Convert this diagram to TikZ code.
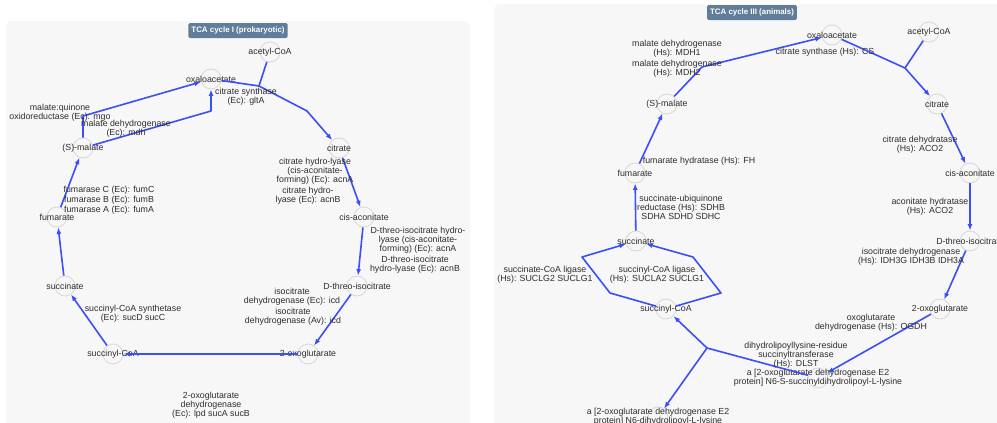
\documentclass[tikz,border=0pt]{standalone}
\usepackage{fontspec}
\setmainfont{Liberation Sans}
\usetikzlibrary{arrows.meta, positioning}
\definecolor{rxnBlue}{RGB}{58,78,250}
\definecolor{panelGray}{RGB}{247,247,247}
\definecolor{ringGray}{RGB}{218,218,218}
\definecolor{textGray}{RGB}{45,45,45}
\definecolor{tagBlue}{RGB}{96,125,153}

\begin{document}
\begin{tikzpicture}[x=1pt, y=-1pt, every node/.style={font=\fontsize{8.8}{9.2}\selectfont, text=textGray},
		met/.style={circle, draw=ringGray, line width=0.9pt, minimum size=20pt, inner sep=0pt},
		enz/.style={align=center, inner sep=0pt},
		rxn/.style={rxnBlue, line width=1.6pt, line join=round},
		rxnA/.style={rxn, -{Latex[length=6.5pt, width=5pt]}},
		panel/.style={fill=panelGray, rounded corners=6pt},
		tag/.style={fill=tagBlue, rounded corners=1.5pt, text=white, font=\fontsize{7.9}{8}\selectfont\bfseries, minimum height=15pt, inner xsep=3pt, inner ysep=0pt}]
		\useasboundingbox (0,0) rectangle (997,423);
		\clip (0,0) rectangle (997,423);
		% panels and their tags
		\fill[panel] (6,21) rectangle (470,440);
		\fill[panel] (494,4) rectangle (1010,440);
		\node[tag] (tag1) at (238,30.5) {TCA cycle I (prokaryotic)};
		\node[tag] (tag2) at (752,12.5) {TCA cycle III (animals)};
		%
		% ---- TCA cycle I ----
		\node[met, label=center:acetyl-CoA] (acoa1) at (270,52) {};
		\node[met, label=center:oxaloacetate] (oaa1) at (211,79) {};
		\node[met, label=center:citrate] (cit1) at (339,148) {};
		\node[met, label=center:cis-aconitate] (cisa1) at (364,217) {};
		\node[met, label=center:D-threo-isocitrate] (icit1) at (357,286) {};
		\node[met, label=center:2-oxoglutarate] (akg1) at (308,354) {};
		\node[met, label=center:succinyl-CoA] (scoa1) at (113,354) {};
		\node[met, label=center:succinate] (succ1) at (65,286) {};
		\node[met, label=center:fumarate] (fum1) at (57,217) {};
		\node[met, label=center:(S)-malate] (mal1) at (83,148) {};
		\coordinate (j1) at (259,86);
		\coordinate (b1) at (307,111);
		\coordinate (b2) at (83,116);
		\coordinate (b3) at (211,111);
		% reactions
		\draw[rxn] (acoa1) -- (j1);
		\draw[rxn] (oaa1) -- (j1);
		\draw[rxnA] (j1) -- (b1) -- (cit1);
		\draw[rxnA] (cit1) -- (cisa1);
		\draw[rxnA] (cisa1) -- (icit1);
		\draw[rxnA] (icit1) -- (akg1);
		\draw[rxnA] (akg1) -- (scoa1);
		\draw[rxnA] (scoa1) -- (succ1);
		\draw[rxnA] (succ1) -- (fum1);
		\draw[rxnA] (fum1) -- (mal1);
		\draw[rxnA] (mal1) -- (b2) -- (oaa1);
		\draw[rxnA] (mal1) -- (b3) -- (oaa1);
		% enzymes
		\node[enz] (gltA) at (246,96.5) {citrate synthase\\(Ec): gltA};
		\node[enz] (mgo) at (60,112.5) {malate:quinone\\oxidoreductase (Ec): mgo};
		\node[enz] (mdh) at (126,128.5) {malate dehydrogenase\\(Ec): mdh};
		\node[enz] (fumABC) at (109,200) {fumarase C (Ec): fumC\\[1pt]fumarase B (Ec): fumB\\[1pt]fumarase A (Ec): fumA};
		\node[enz] (acnA1) at (315,171) {citrate hydro-lyase\\(cis-aconitate-\\forming) (Ec): acnA};
		\node[enz] (acnB1) at (308,196) {citrate hydro-\\lyase (Ec): acnB};
		\node[enz] (acnA2) at (418,240) {D-threo-isocitrate hydro-\\lyase (cis-aconitate-\\forming) (Ec): acnA};
		\node[enz] (acnB2) at (415,265) {D-threo-isocitrate\\hydro-lyase (Ec): acnB};
		\node[enz] (icdEc) at (292,296.5) {isocitrate\\dehydrogenase (Ec): icd};
		\node[enz] (icdAv) at (293,316.5) {isocitrate\\dehydrogenase (Av): icd};
		\node[enz] (sucCD) at (133,313.5) {succinyl-CoA synthetase\\(Ec): sucD sucC};
		\node[enz] (sucAB) at (211,405.5) {2-oxoglutarate\\dehydrogenase\\(Ec): lpd sucA sucB};
		%
		% ---- TCA cycle III ----
		\node[met, label=center:oxaloacetate] (oaa2) at (832,35) {};
		\node[met, label=center:acetyl-CoA] (acoa2) at (929,32) {};
		\node[met, label=center:citrate] (cit2) at (937,104) {};
		\node[met, label=center:cis-aconitate] (cisa2) at (970,173) {};
		\node[met, label=center:D-threo-isocitrate] (icit2) at (970,241) {};
		\node[met, label=center:2-oxoglutarate] (akg2) at (940,309) {};
		\node[met, label={[enz]center:a [2-oxoglutarate dehydrogenase E2\\protein] N6-S-succinyldihydrolipoyl-L-lysine}] (slip2) at (818,378) {};
		\node[met, label={[enz]center:a [2-oxoglutarate dehydrogenase E2\\protein] N6-dihydrolipoyl-L-lysine}] (dlip2) at (658,417) {};
		\node[met, label=center:succinyl-CoA] (scoa2) at (666,309) {};
		\node[met, label=center:succinate] (succ2) at (636,241) {};
		\node[met, label=center:fumarate] (fum2) at (635,173) {};
		\node[met, label=center:(S)-malate] (mal2) at (667,104) {};
		\coordinate (b4) at (702,67);
		\coordinate (j2) at (905,68);
		\coordinate (j3) at (707,348);
		\coordinate (h1) at (610,293);
		\coordinate (h2) at (582,257);
		\coordinate (h3) at (721,293);
		\coordinate (h4) at (693,257);
		% reactions
		\draw[rxnA] (mal2) -- (b4) -- (oaa2);
		\draw[rxn] (oaa2) -- (j2);
		\draw[rxn] (acoa2) -- (j2);
		\draw[rxnA] (j2) -- (cit2);
		\draw[rxnA] (cit2) -- (cisa2);
		\draw[rxnA] (cisa2) -- (icit2);
		\draw[rxnA] (icit2) -- (akg2);
		\draw[rxnA] (akg2) -- (slip2);
		\draw[rxn] (slip2) -- (j3);
		\draw[rxnA] (j3) -- (scoa2);
		\draw[rxnA] (j3) -- (dlip2);
		\draw[rxnA] (scoa2) -- (h1) -- (h2) -- (succ2);
		\draw[rxnA] (scoa2) -- (h3) -- (h4) -- (succ2);
		\draw[rxnA] (succ2) -- (fum2);
		\draw[rxnA] (fum2) -- (mal2);
		% enzymes
		\node[enz] (MDH1) at (677,48.5) {malate dehydrogenase\\(Hs): MDH1};
		\node[enz] (MDH2) at (677,68.5) {malate dehydrogenase\\(Hs): MDH2};
		\node[enz] (CS) at (825,52) {citrate synthase (Hs): CS};
		\node[enz] (FH) at (699,161) {fumarate hydratase (Hs): FH};
		\node[enz] (SDH) at (681,207.5) {succinate-ubiquinone\\reductase (Hs): SDHB\\SDHA SDHD SDHC};
		\node[enz] (ACOa) at (920,145) {citrate dehydratase\\(Hs): ACO2};
		\node[enz] (ACOb) at (930,207) {aconitate hydratase\\(Hs): ACO2};
		\node[enz] (IDH3) at (911,256.5) {isocitrate dehydrogenase\\(Hs): IDH3G IDH3B IDH3A};
		\node[enz] (OGDH) at (871,322.5) {oxoglutarate\\dehydrogenase (Hs): OGDH};
		\node[enz] (DLST) at (796,355.5) {dihydrolipoyllysine-residue\\succinyltransferase\\(Hs): DLST};
		\node[enz] (SUCLG) at (545,274.5) {succinate-CoA ligase\\(Hs): SUCLG2 SUCLG1};
		\node[enz] (SUCLA) at (657,274.5) {succinyl-CoA ligase\\(Hs): SUCLA2 SUCLG1};
	\end{tikzpicture}
\end{document}
